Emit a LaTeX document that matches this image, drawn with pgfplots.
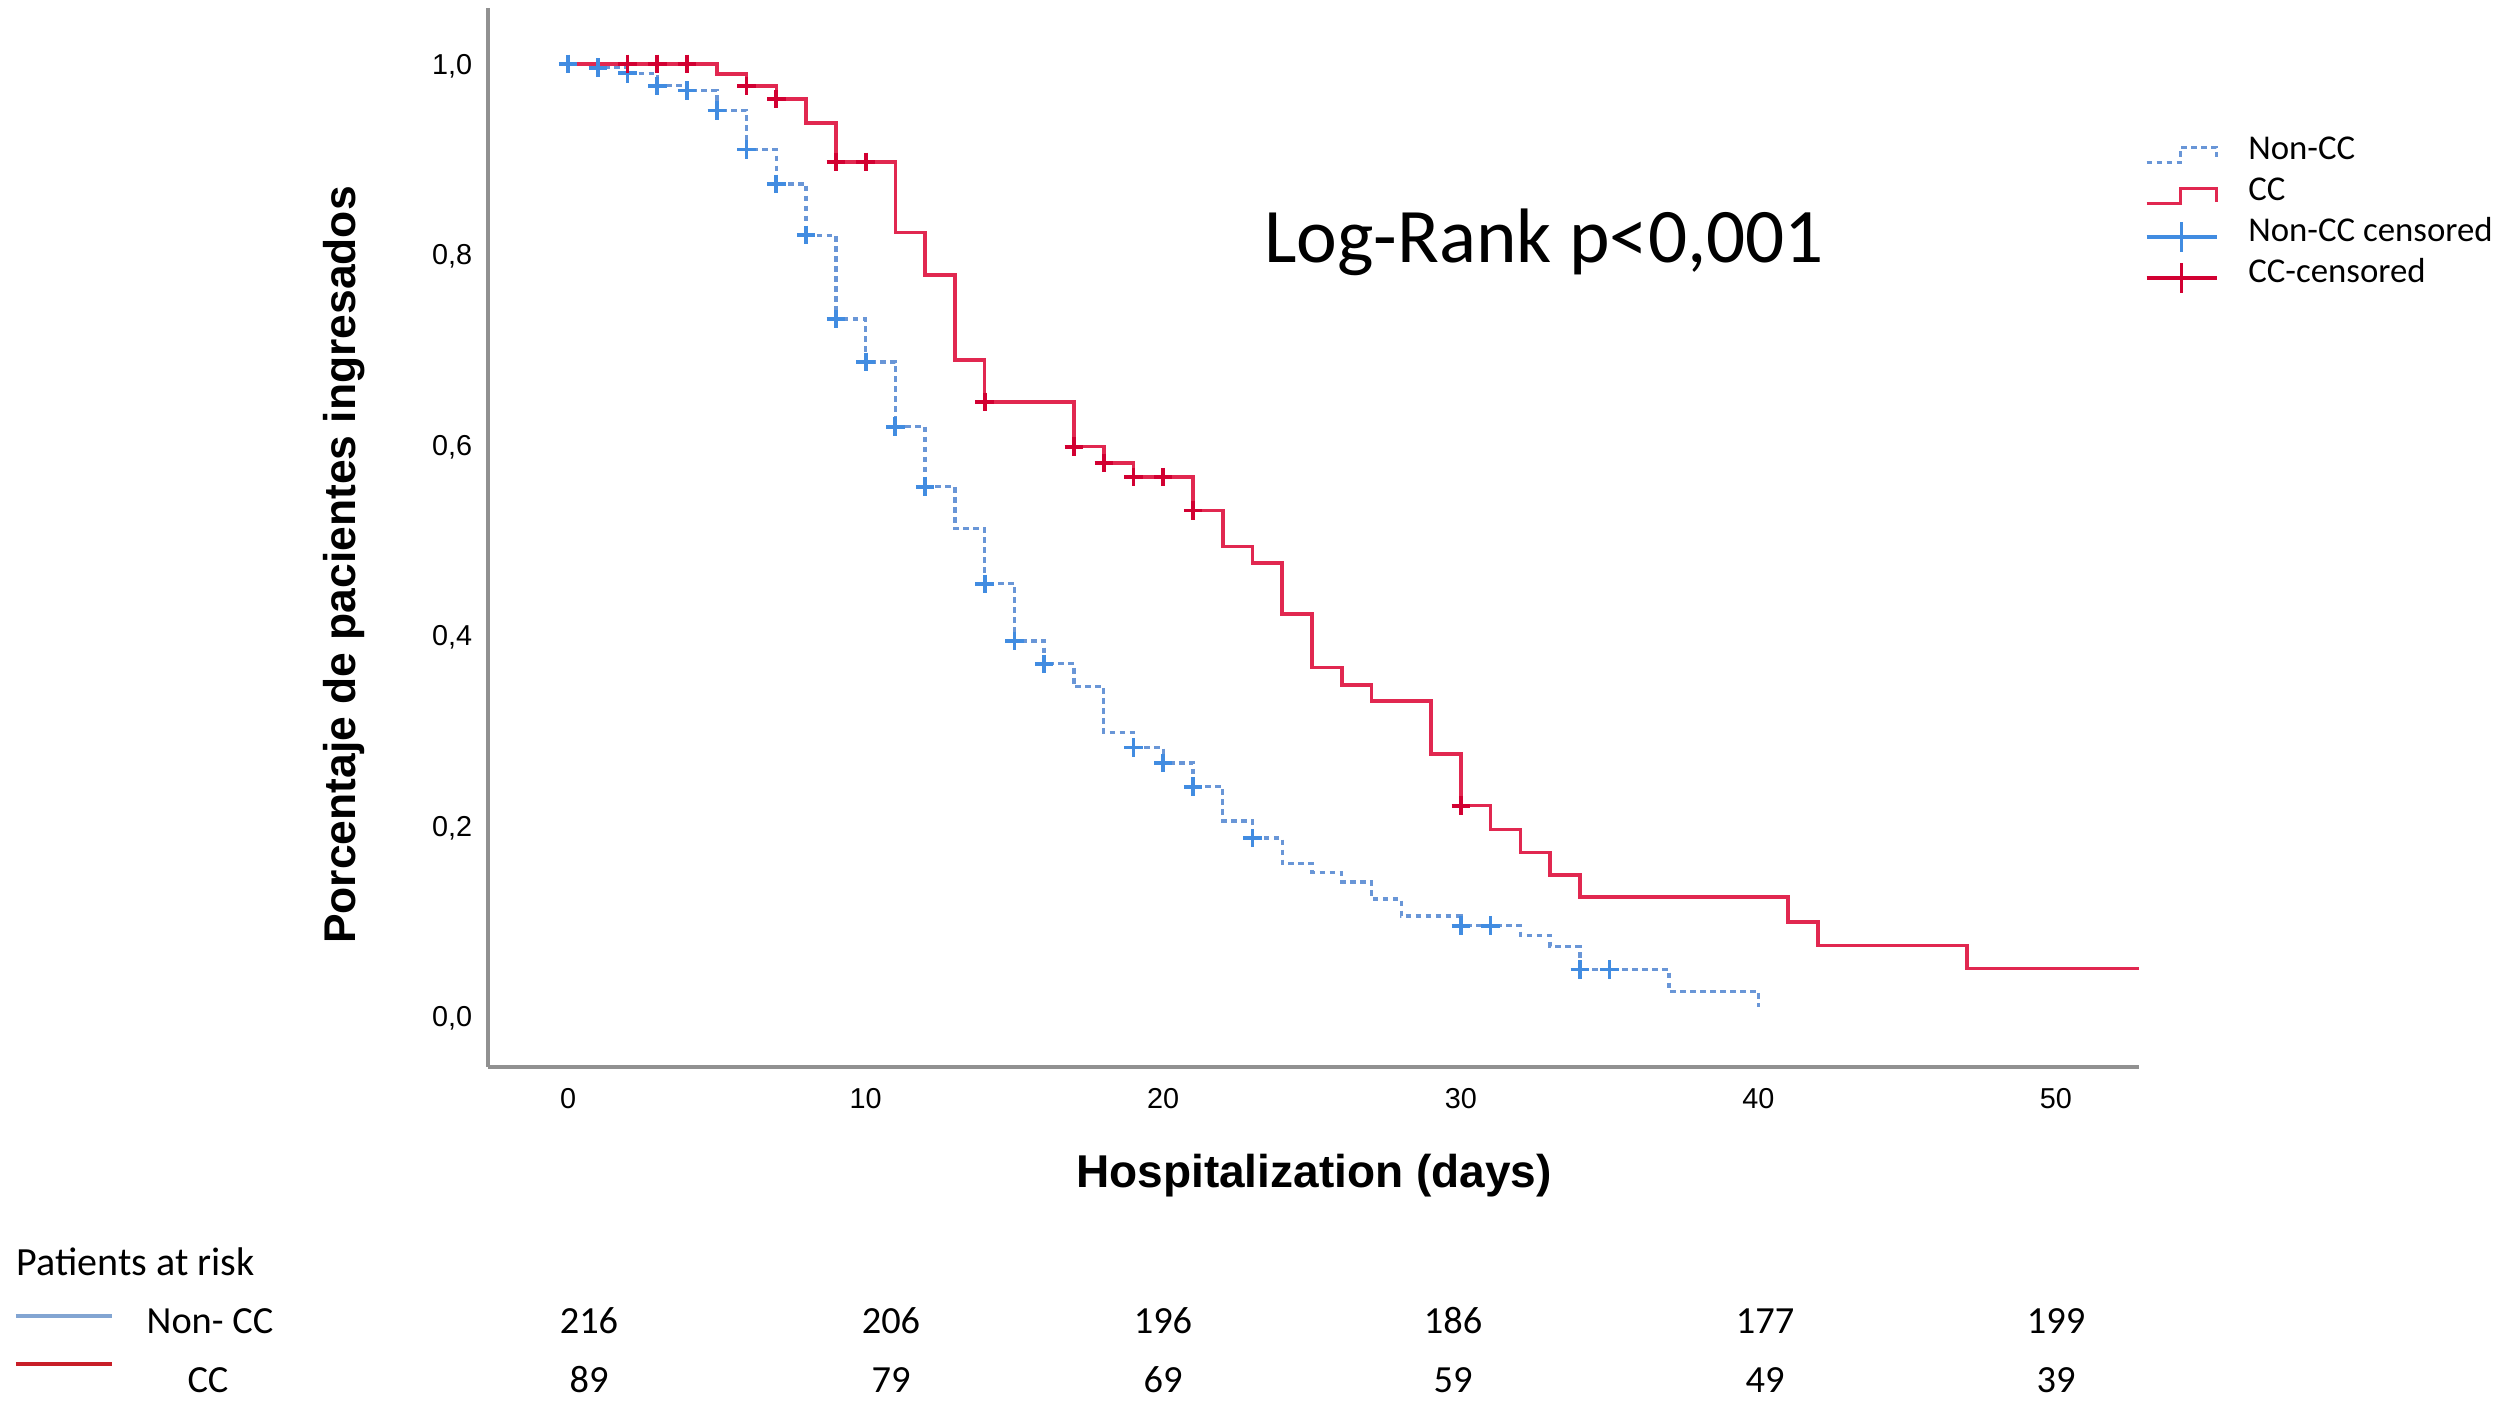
\documentclass[border=0pt]{standalone}
\usepackage{pgfplots}
\pgfplotsset{compat=1.18}
\usepackage{fontspec}
\setmainfont{Liberation Sans}
\newfontfamily\carlito{Carlito}

\definecolor{ncline}{RGB}{105,150,215}
\definecolor{ncmark}{RGB}{65,140,225}
\definecolor{ccline}{RGB}{225,40,80}
\definecolor{ccmark}{RGB}{210,0,50}
\definecolor{axisgray}{RGB}{145,145,145}
\definecolor{riskblue}{RGB}{130,165,210}
\definecolor{riskred}{RGB}{200,30,40}

% Kaplan-Meier steps: value holds from t until the next t
\pgfplotstableread{
t S
0 1.000
1 0.996
2 0.990
3 0.977
4 0.972
5 0.951
6 0.910
7 0.874
8 0.820
9 0.732
10 0.687
11 0.619
12 0.556
13 0.512
14 0.454
15 0.394
16 0.370
17 0.346
18 0.298
19 0.282
20 0.266
21 0.241
22 0.205
23 0.187
24 0.160
25 0.151
26 0.141
27 0.123
28 0.105
30 0.095
32 0.085
33 0.073
34 0.049
37 0.026
40 0.010
}\noncc

\pgfplotstableread{
t S
0 1.000
5 0.989
6 0.977
7 0.963
8 0.938
9 0.897
11 0.823
12 0.778
13 0.689
14 0.645
17 0.598
18 0.581
19 0.566
21 0.531
22 0.493
23 0.476
24 0.422
25 0.366
26 0.348
27 0.331
29 0.275
30 0.221
31 0.196
32 0.172
33 0.148
34 0.125
41 0.099
42 0.074
47 0.050
52.79 0.050
}\cc

\pgfplotstableread{
t S
0 1.000
1 0.996
2 0.990
3 0.977
4 0.972
5 0.951
6 0.910
7 0.874
8 0.820
9 0.732
10 0.687
11 0.619
12 0.556
14 0.454
15 0.394
16 0.370
19 0.282
20 0.266
21 0.241
23 0.187
30 0.095
31 0.095
34 0.049
35 0.049
}\nonccCens

\pgfplotstableread{
t S
2 1.000
3 1.000
4 1.000
6 0.977
7 0.963
9 0.897
10 0.897
14 0.645
17 0.598
18 0.581
19 0.566
20 0.566
21 0.531
30 0.221
}\ccCens

\begin{document}
\begin{tikzpicture}
\begin{axis}[
  at={(0pt,0pt)}, anchor=south west,
  scale only axis, width=412.75pt, height=264.75pt,
  xmin=-2.69, xmax=52.79, ymin=-0.0534, ymax=1.0586,
  axis x line*=bottom, axis y line*=left,
  axis line style={-, draw=axisgray, line width=1.1pt},
  xtick={0,10,20,30,40,50},
  ytick={0,0.2,0.4,0.6,0.8,1},
  major tick length=0pt,
  /pgf/number format/assume math mode=true,
  ticklabel style={font=\fontsize{7.2}{8}\selectfont},
  yticklabel style={/pgf/number format/fixed, /pgf/number format/fixed zerofill,
    /pgf/number format/precision=1, /pgf/number format/use comma,
    anchor=east, inner sep=0pt, xshift=-3.75pt, yshift=-0.6pt},
  xticklabel style={anchor=center, inner sep=0pt, yshift=-8pt},
  legend cell align=left,
  legend style={at={(axis description cs:1,1)}, anchor=north west,
    xshift=1.25pt, yshift=-31.4pt, draw=none, fill=none, inner sep=0pt,
    row sep=0pt, column sep=7.5pt,
    font=\carlito\fontsize{8.7}{10}\selectfont,
    nodes={inner sep=0pt, text height=6.15pt, text depth=4.1pt}},
]
\addplot[const plot, ncline, line width=0.85pt, dash pattern=on 1.4pt off 1.1pt,
  legend image code/.code={\draw[ncline, line width=0.85pt, dash pattern=on 1.4pt off 1.1pt]
    (0pt,-1.9pt) -- (8.5pt,-1.9pt) -- (8.5pt,1.9pt) -- (17.5pt,1.9pt) -- (17.5pt,-0.4pt);}]
  table[x=t, y=S] {\noncc};
\addlegendentry{Non-CC}
\addplot[const plot, ccline, line width=0.9pt,
  legend image code/.code={\draw[ccline, line width=0.9pt]
    (0pt,-1.9pt) -- (8.5pt,-1.9pt) -- (8.5pt,1.9pt) -- (17.5pt,1.9pt) -- (17.5pt,-1.4pt);}]
  table[x=t, y=S] {\cc};
\addlegendentry{CC}
\addplot[only marks, mark=+, mark size=2.3pt, mark options={ncmark, line width=0.95pt},
  legend image code/.code={\draw[ncmark, line width=0.9pt]
    (0pt,0pt) -- (17.5pt,0pt) (8.75pt,-3.75pt) -- (8.75pt,3.75pt);}]
  table[x=t, y=S] {\nonccCens};
\addlegendentry{Non-CC censored}
\addplot[only marks, mark=+, mark size=2.3pt, mark options={ccmark, line width=0.95pt},
  legend image code/.code={\draw[ccmark, line width=0.9pt]
    (0pt,0pt) -- (17.5pt,0pt) (8.75pt,-3.75pt) -- (8.75pt,3.75pt);}]
  table[x=t, y=S] {\ccCens};
\addlegendentry{CC-censored}
\end{axis}

% axis titles and annotation
\node[rotate=90, font=\bfseries\fontsize{11.1}{13}\selectfont] at (-36pt,125.5pt)
  {Porcentaje de pacientes ingresados};
\node[font=\bfseries\fontsize{11.5}{13}\selectfont] at (206.5pt,-27.25pt)
  {Hospitalization (days)};
\node[anchor=base, inner sep=0pt, font=\carlito\fontsize{19.3}{23}\selectfont] at (264pt,201pt)
  {Log-Rank p<0,001};

% patients at risk table
\begin{scope}[every node/.style={anchor=base, inner sep=0pt, font=\carlito\fontsize{9.6}{11}\selectfont}]
\node[anchor=base west, font=\carlito\fontsize{10}{12}\selectfont] at (-118pt,-52pt) {Patients at risk};
\draw[riskblue, line width=1.1pt] (-118pt,-62.25pt) -- (-94pt,-62.25pt);
\draw[riskred, line width=1.1pt] (-118pt,-74.25pt) -- (-94pt,-74.25pt);
\node at (-69.5pt,-66.5pt) {Non- CC};
\node at (-70pt,-81.25pt) {CC};
\foreach \x/\a/\b in {25.25/216/89, 100.75/206/79, 168.75/196/69, 241.25/186/59, 319.25/177/49, 392/199/39} {
  \node at (\x pt,-66.5pt) {\a};
  \node at (\x pt,-81.25pt) {\b};
}
\end{scope}

\pgfresetboundingbox
\path (-122pt,-84.75pt) rectangle (505pt,266.75pt);
\end{tikzpicture}
\end{document}
